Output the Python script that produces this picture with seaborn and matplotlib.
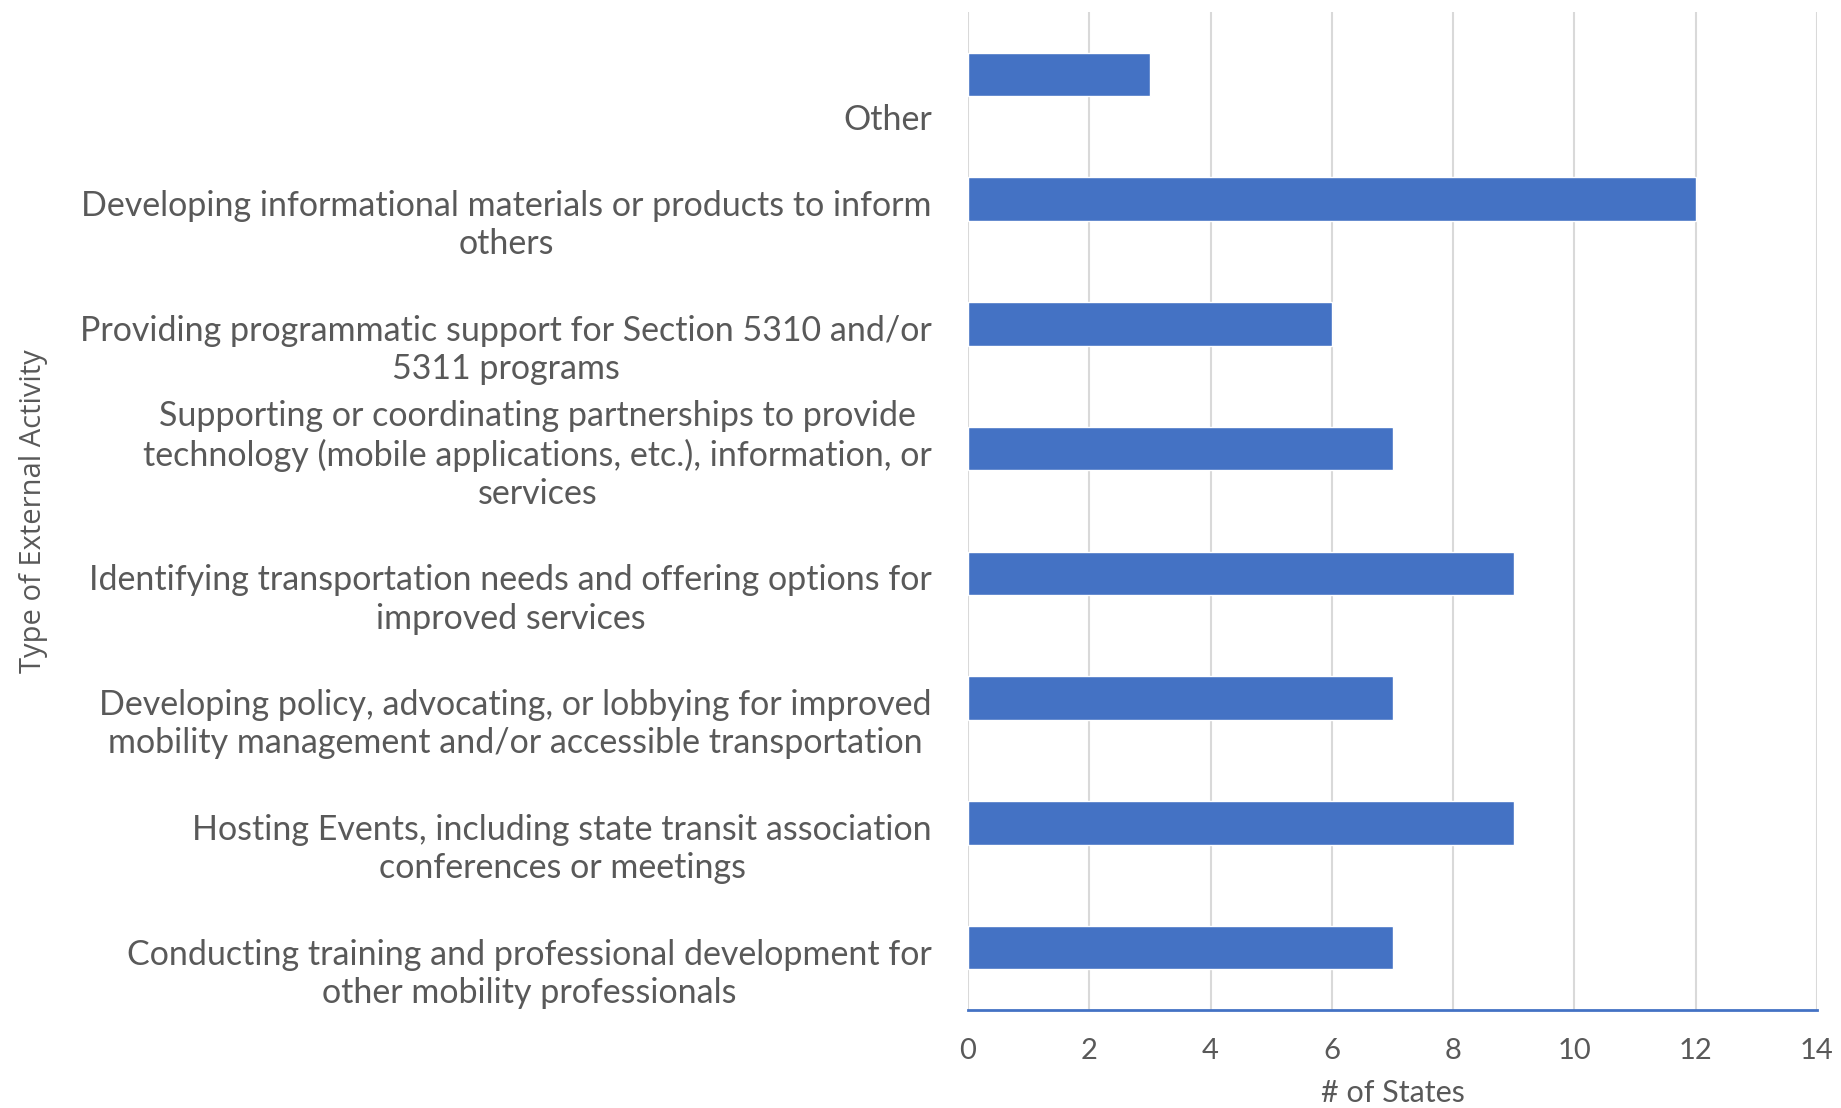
import pandas as pd
import matplotlib.pyplot as plt
import seaborn as sns

# Activités externes et nombre d'états
activities = [
    "Other",
    "Developing informational materials or products to inform\nothers",
    "Providing programmatic support for Section 5310 and/or\n5311 programs",
    "Supporting or coordinating partnerships to provide\ntechnology (mobile applications, etc.), information, or\nservices",
    "Identifying transportation needs and offering options for\nimproved services",
    "Developing policy, advocating, or lobbying for improved\nmobility management and/or accessible transportation",
    "Hosting Events, including state transit association\nconferences or meetings",
    "Conducting training and professional development for\nother mobility professionals",
]
n_states = [3, 12, 6, 7, 9, 7, 9, 7]
x_ticks = [0, 2, 4, 6, 8, 10, 12, 14]

df = pd.DataFrame({"activity": activities, "states": n_states})

sns.set_style("white")
plt.rcParams['font.family'] = ['Lato', 'DejaVu Sans']

text_color = "#595959"
bar_color = "#4472C4"

fig = plt.figure(figsize=(18.41, 11.08), dpi=100)
ax = fig.add_axes([968 / 1841, 1 - 1010 / 1108, 849 / 1841, 998 / 1108])

sns.barplot(data=df, x="states", y="activity", order=activities, orient="h",
            color=bar_color, width=0.35, saturation=1, ax=ax)

ax.set_xlim(0, 14)
ax.set_xticks(x_ticks)
ax.set_xticklabels([str(t) for t in x_ticks], fontsize=21, color=text_color)
ax.tick_params(axis="x", length=0, pad=20)
ax.grid(axis="x", color="#d9d9d9", linewidth=1.5)
ax.set_axisbelow(True)

# les libellés sont décalés vers le bas, comme dans Excel
ax.set_yticks([i + 0.49 for i in range(len(activities))])
ax.set_yticklabels(activities, fontsize=24.5, color=text_color, va="bottom",
                   multialignment="center", linespacing=1.24)
ax.tick_params(axis="y", length=0, pad=26)

for side in ["top", "right", "left"]:
    ax.spines[side].set_visible(False)
ax.spines["bottom"].set_color(bar_color)
ax.spines["bottom"].set_linewidth(2)

ax.set_xlabel("# of States", fontsize=22, color=text_color)
ax.xaxis.set_label_coords(0.5, (1010 - 1107) / 998)
ax.xaxis.label.set_va("bottom")
ax.set_ylabel("Type of External Activity", fontsize=21, color=text_color,
              family=["Open Sans", "DejaVu Sans"])
ax.yaxis.set_label_coords(-1.101, 0.5)
ax.yaxis.label.set_va("center")

fig.savefig("out.png", dpi=100)
